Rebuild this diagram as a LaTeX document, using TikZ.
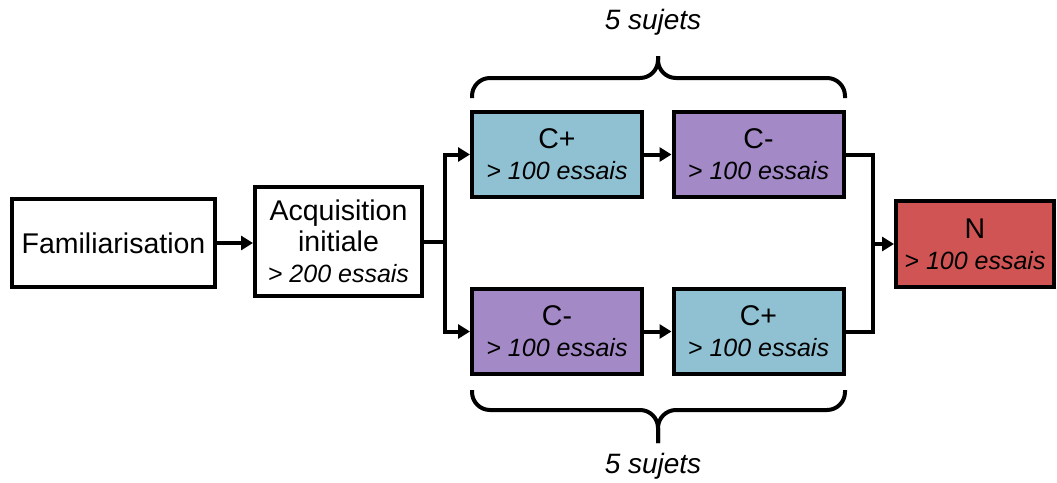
\documentclass[tikz,border=0pt]{standalone}
\usepackage{fontspec}
\setmainfont{Liberation Sans}
\usetikzlibrary{arrows.meta}
\definecolor{cplus}{RGB}{143,193,211}
\definecolor{cminus}{RGB}{164,137,199}
\definecolor{nred}{RGB}{208,84,84}
\newcommand{\ess}[1]{{\fontsize{25}{31}\selectfont\itshape #1}}
\begin{document}
\begin{tikzpicture}[x=1pt,y=-1pt,
  box/.style={draw=black,line width=4pt,inner sep=0pt,align=center,
    font=\fontsize{28.5}{31}\selectfont},
  cbox/.style={box,minimum width=170pt,minimum height=85pt},
  conn/.style={line width=4pt,draw=black},
  arr/.style={conn,-{Triangle[length=12pt,width=14pt]}},
  brace/.style={line width=4pt,rounded corners=18pt,line cap=butt},
  lbl/.style={font=\fontsize{28}{31}\selectfont\itshape}]
\useasboundingbox (0,0) rectangle (1057,482);
\node[box,minimum width=203pt,minimum height=88pt] (fam) at (113.5,243) {Familiarisation};
\node[box,minimum width=167pt,minimum height=109pt] (acq) at (338.5,241.5) {Acquisition\\initiale\\\ess{> 200 essais}};
\node[cbox,fill=cplus] (c1) at (557,154.5) {C+\\\ess{> 100 essais}};
\node[cbox,fill=cminus] (c2) at (758.5,154.5) {C-\\\ess{> 100 essais}};
\node[cbox,fill=cminus] (c3) at (557,331.5) {C-\\\ess{> 100 essais}};
\node[cbox,fill=cplus] (c4) at (758.5,331.5) {C+\\\ess{> 100 essais}};
\node[box,fill=nred,minimum width=158pt,minimum height=86pt] (n) at (975,244) {N\\\ess{> 100 essais}};
\coordinate (split) at (445,241.5);
\coordinate (join) at (873,244);
\draw[arr] (fam.east) -- (acq.west |- fam.east);
\draw[conn] (acq.east) -- (split);
\draw[arr] (split) |- (c1.west);
\draw[arr] (split) |- (c3.west);
\draw[arr] (c1.east) -- (c2.west);
\draw[arr] (c3.east) -- (c4.west);
\draw[conn] (c2.east) -| (join);
\draw[conn] (c4.east) -| (join);
\draw[arr] (join) -- (n.west);
% top brace
\draw[brace] (472,98) -- (472,78) -- (658,78) -- (658,56);
\draw[brace] (845,98) -- (845,78) -- (658,78) -- (658,56);
\node[lbl] (t1) at (653,22) {5 sujets};
% bottom brace
\draw[brace] (472,390) -- (472,410) -- (658,410) -- (658,443);
\draw[brace] (845,390) -- (845,410) -- (658,410) -- (658,443);
\node[lbl] (t2) at (653,466) {5 sujets};
\end{tikzpicture}
\end{document}
